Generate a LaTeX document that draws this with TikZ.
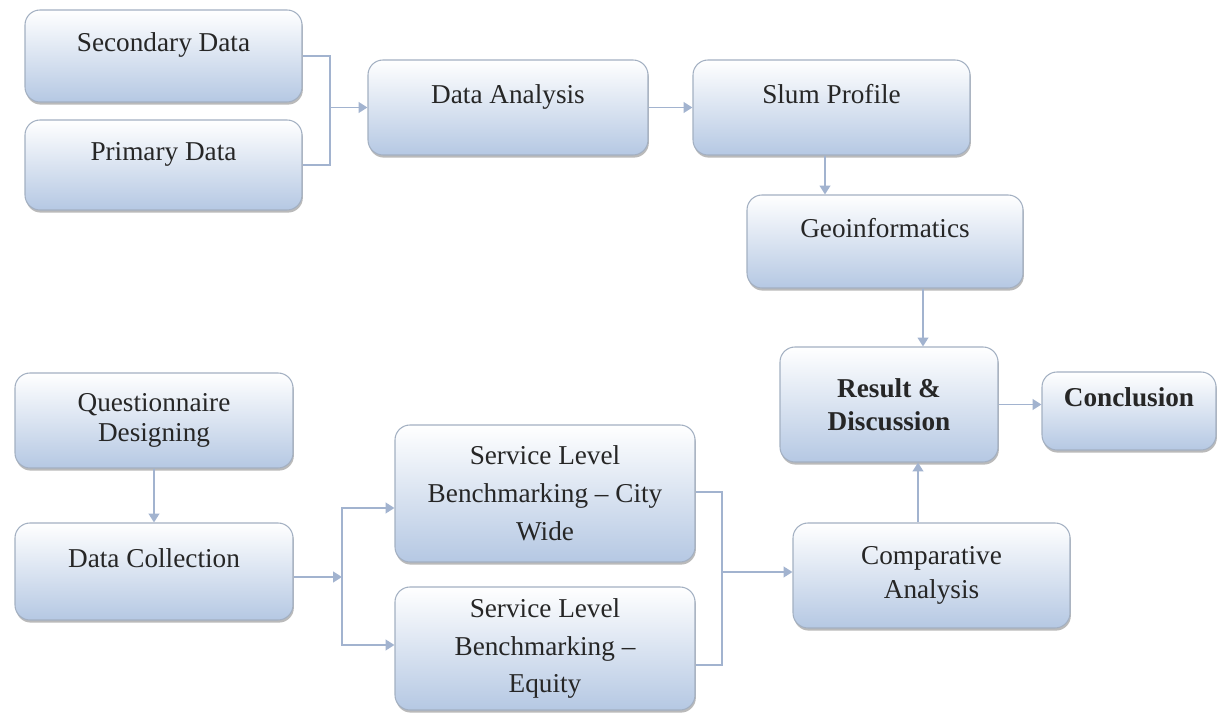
\documentclass[tikz,border=0pt]{standalone}
\usepackage{fontspec}
\setmainfont{Liberation Serif}
\usetikzlibrary{arrows.meta,shadows}
\definecolor{boxblue}{HTML}{B5C8E3}
\definecolor{boxline}{HTML}{A3B0C2}
\definecolor{linkblue}{HTML}{A2B3CF}
\tikzset{
box/.style={rectangle, rounded corners=0.3cm, draw=boxline, line width=0.6pt,
  top color=white, bottom color=boxblue,
  drop shadow={shadow xshift=0.5pt, shadow yshift=-1.5pt, fill=black!45, opacity=0.6},
  align=center, inner sep=2pt, text=black!85, font=\fontsize{15.5}{20}\selectfont},
lift/.style={text depth=0.55cm},
conn/.style={draw=linkblue, line width=1.1pt},
arr/.style={conn, -{Triangle[length=5pt,width=6pt]}}
}
\begin{document}
\begin{tikzpicture}
\useasboundingbox (0,0) rectangle (24.38,-14.5);

\node [box, lift, minimum width=5.54cm, minimum height=1.84cm] (sec) at (3.27,-1.12) {Secondary Data};
\node [box, lift, minimum width=5.54cm, minimum height=1.80cm] (pri) at (3.27,-3.30) {Primary Data};
\node [box, lift, minimum width=5.60cm, minimum height=1.90cm] (ana) at (10.16,-2.15) {Data Analysis};
\node [box, lift, minimum width=5.54cm, minimum height=1.90cm] (slum) at (16.63,-2.15) {Slum Profile};
\node [box, lift, minimum width=5.52cm, minimum height=1.86cm] (geo) at (17.70,-4.83) {Geoinformatics};
\node [box, minimum width=4.36cm, minimum height=2.30cm, font=\fontsize{15.5}{19}\selectfont\bfseries] (res) at (17.78,-8.09) {Result \&\\Discussion};
\node [box, lift, minimum width=3.48cm, minimum height=1.56cm, font=\fontsize{15.5}{19}\selectfont\bfseries] (con) at (22.58,-8.22) {Conclusion};
\node [box, minimum width=5.56cm, minimum height=1.90cm, font=\fontsize{15.5}{17}\selectfont] (que) at (3.08,-8.41) {Questionnaire\\Designing};
\node [box, lift, minimum width=5.56cm, minimum height=1.94cm] (col) at (3.08,-11.43) {Data Collection};
\node [box, minimum width=6.00cm, minimum height=2.74cm, font=\fontsize{15.5}{21.5}\selectfont] (city) at (10.90,-9.87) {Service Level\\Benchmarking -- City\\Wide};
\node [box, minimum width=6.00cm, minimum height=2.46cm, font=\fontsize{15.5}{21.5}\selectfont] (equ) at (10.90,-12.97) {Service Level\\Benchmarking --\\Equity};
\node [box, minimum width=5.54cm, minimum height=2.10cm, font=\fontsize{15.5}{19}\selectfont] (comp) at (18.63,-11.51) {Comparative\\Analysis};

\coordinate (jn1) at (6.60,-2.15);
\coordinate (jn2) at (6.84,-11.50);
\coordinate (jn3) at (14.44,-11.44);

\draw [conn] (sec.east) -| (jn1) |- (pri.east);
\draw [arr] (jn1) -- (jn1 -| ana.west);
\draw [arr] (ana.east) -- (ana.east -| slum.west);
\draw [arr] ([xshift=-0.13cm]slum.south) -- ([xshift=-0.13cm]slum.south |- geo.north);
\draw [arr] ([xshift=0.76cm]geo.south) -- ([xshift=0.76cm]geo.south |- res.north);
\draw [arr] (res.east) -- (res.east -| con.west);
\draw [arr] (que.south) -- (col.north);
\draw [arr] ([yshift=-0.11cm]col.east) -- ([yshift=-0.11cm]col.east -| jn2);
\draw [arr] (jn2) |- ([yshift=-0.29cm]city.west);
\draw [arr] (jn2) |- ([yshift=0.07cm]equ.west);
\draw [conn] ([yshift=0.03cm]city.east) -| (jn3);
\draw [conn] ([yshift=-0.33cm]equ.east) -| (jn3);
\draw [arr] (jn3) -- (jn3 -| comp.west);
\draw [arr] ([xshift=-0.27cm]comp.north) -- ([xshift=-0.27cm]comp.north |- res.south);
\end{tikzpicture}
\end{document}
